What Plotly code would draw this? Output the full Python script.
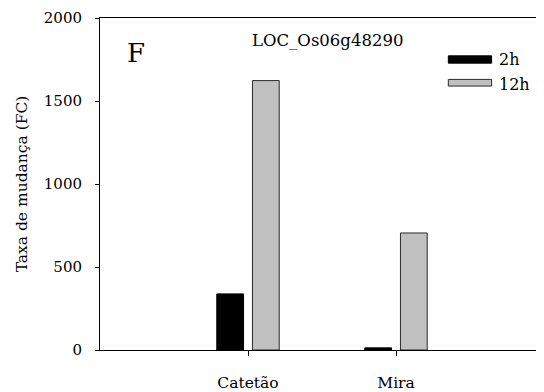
import plotly.graph_objects as go

categories = ["Catetão", "Mira"]
series_names = ["2h", "12h"]
values_2h = [338, 13]
values_12h = [1623, 705]
y_tick_vals = [0, 500, 1000, 1500, 2000]
y_tick_text = ["0", "500", "1000", "1500", "2000"]
gene_title = "LOC_Os06g48290"
panel_label = "F"
y_title = "Taxa de mudança (FC)"

FONT = "DejaVu Serif"
fill_colors = ["#000000", "#c0c0c0"]
line_colors = ["#000000", "#2a2a2a"]

fig = go.Figure()
for name, vals, fc, lc in zip(series_names, [values_2h, values_12h], fill_colors, line_colors):
    fig.add_trace(go.Bar(
        x=categories, y=vals, name=name,
        marker=dict(color=fc, line=dict(color=lc, width=1)),
        showlegend=False,
    ))

# the page body adds an 8px offset; the figure is sized so the plot lands where the reference has it
fig.update_layout(
    width=536, height=384,
    margin=dict(l=92, r=0, t=10, b=41.5),
    paper_bgcolor="white", plot_bgcolor="white",
    barmode="group", bargap=0.518, bargroupgap=0.25,
    font=dict(family=FONT, size=15, color="black"),
)
fig.update_xaxes(
    type="category", range=[-1, 2],
    showline=True, linecolor="black", linewidth=1, mirror=True,
    ticks="outside", ticklen=5, tickcolor="black", tickwidth=1,
    showgrid=False, zeroline=False,
    tickfont=dict(family=FONT, size=15.5),
    ticklabelstandoff=13, ticklabeloverflow="allow",
)
fig.update_yaxes(
    range=[0, 2000], tickvals=y_tick_vals, ticktext=y_tick_text,
    showline=True, linecolor="black", linewidth=1,
    ticks="outside", ticklen=4, tickcolor="black", tickwidth=1,
    showgrid=False, zeroline=False,
    tickfont=dict(family=FONT, size=15),
    ticklabelstandoff=10, ticklabeloverflow="allow",
    title=dict(text=y_title, font=dict(family=FONT, size=15.5), standoff=12),
)

fig.add_annotation(text=gene_title, xref="paper", yref="paper", x=0.5135, y=0.931,
                   showarrow=False, font=dict(family=FONT, size=16.5), xanchor="center", yanchor="middle")
fig.add_annotation(text=panel_label, xref="paper", yref="paper", x=0.0822, y=0.895,
                   showarrow=False, font=dict(family=FONT, size=26), xanchor="center", yanchor="middle")

leg_y = [(0.864, 0.886), (0.795, 0.815)]
leg_text_y = [0.876, 0.800]
for name, (y0, y1), ty, fc, lc in zip(series_names, leg_y, leg_text_y, fill_colors, line_colors):
    fig.add_shape(type="rect", xref="paper", yref="paper", x0=0.7845, x1=0.882, y0=y0, y1=y1,
                  fillcolor=fc, line=dict(color=lc, width=1))
    fig.add_annotation(text=name, xref="paper", yref="paper", x=0.8937, y=ty,
                       showarrow=False, font=dict(family=FONT, size=16), xanchor="left", yanchor="middle")

fig.write_html("out.html")
